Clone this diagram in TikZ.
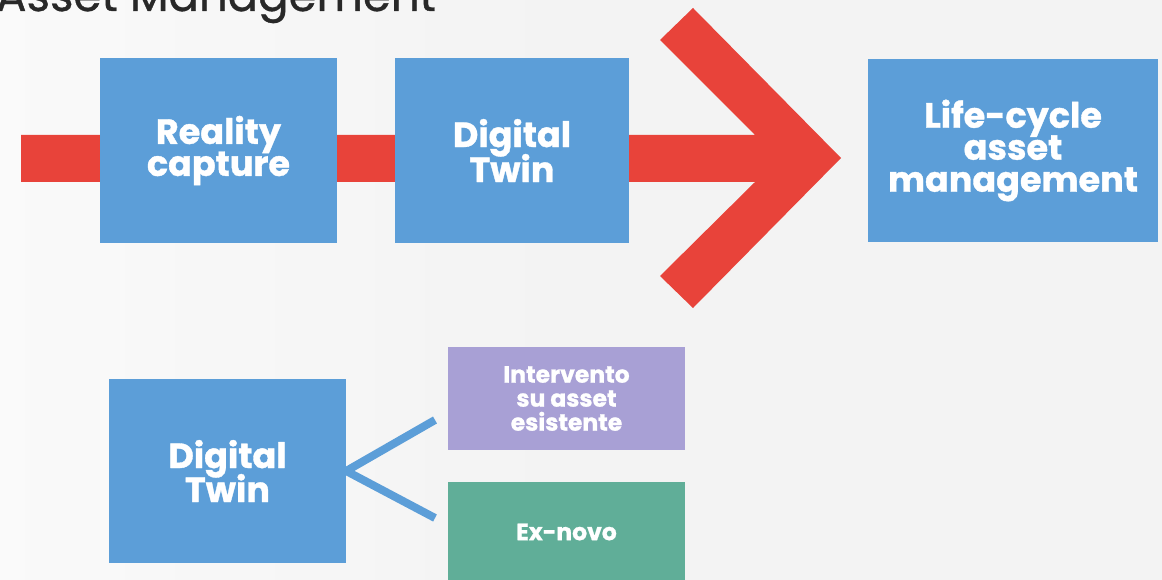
\documentclass[tikz,border=0pt]{standalone}
\usepackage{fontspec}
\setmainfont{Poppins}[BoldFeatures={FakeBold=1}]
\newfontfamily\titlefont{Poppins}[FakeBold=0.8]
\definecolor{bgc}{RGB}{243,243,243}
\definecolor{boxblue}{RGB}{92,158,216}
\definecolor{arrowred}{RGB}{232,67,58}
\definecolor{boxpurple}{RGB}{168,160,213}
\definecolor{boxgreen}{RGB}{96,174,152}
\definecolor{titlegray}{RGB}{40,40,40}
\newcommand{\boxfont}[2]{\bfseries\fontsize{#1}{#2}\selectfont\lineskiplimit=-100pt\relax}
\tikzset{
  bigbox/.style={fill=boxblue, draw=none, inner sep=0pt, align=center,
    text=white, font=\boxfont{35}{32},
    minimum width=237pt, minimum height=185pt},
  smallbox/.style={draw=none, inner sep=0pt, align=center,
    text=white, font=\boxfont{23.5}{24},
    minimum width=237pt, minimum height=103pt},
  branch/.style={draw=boxblue, line width=8pt},
  chevron/.style={fill=arrowred, draw=none}
}
\begin{document}
\begin{tikzpicture}[x=1pt,y=-1pt]
\useasboundingbox (0,0) rectangle (1162,580);
\fill[bgc] (0,0) rectangle (1162,580);
\shade[left color=white, right color=bgc, opacity=0.6] (0,0) rectangle (600,580);
% title
\node[anchor=base west, inner sep=0pt, text=titlegray, font=\titlefont\fontsize{45}{50}\selectfont] (title) at (-4,11) {Asset Management};
% big arrow
\fill[chevron] (21,135) -- (755,135) -- (660,40) -- (693,8) -- (841,158)
  -- (693,308) -- (660,276) -- (755,182) -- (21,182) -- cycle;
% top row
\node[bigbox] (rc) at (218.5,150.5) {Reality\\capture};
\node[bigbox, minimum width=234pt, font=\boxfont{35}{35}] (dt1) at (512,150.5) {Digital\\Twin};
\node[bigbox, minimum width=290pt, minimum height=183pt, font=\boxfont{35}{32}] (lc) at (1013,150.5) {Life-cycle\\asset\\management};
% bottom row
\node[bigbox, minimum height=184pt, font=\boxfont{35}{34}] (dt2) at (227.5,471) {Digital\\Twin};
\node[smallbox, fill=boxpurple] (iv) at (566.5,398.5) {Intervento\\su asset\\esistente};
\node[smallbox, fill=boxgreen, minimum height=100pt] (ex) at (566.5,532) {Ex-novo};
\coordinate (bu) at (435,420);
\coordinate (bl) at (435,518);
\draw[branch] (bu) -- (dt2.east) -- (bl);
\end{tikzpicture}
\end{document}
